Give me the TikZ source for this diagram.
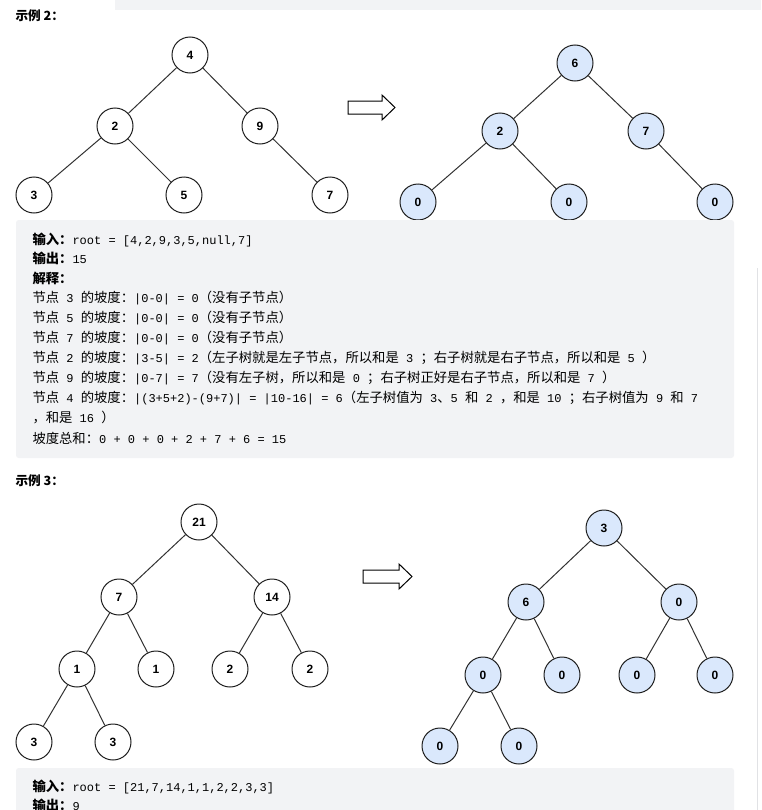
\documentclass[tikz,border=0pt]{standalone}
\usepackage{fontspec}
\setmainfont{Liberation Sans}
\setmonofont{Liberation Mono}
\newfontfamily\cjk{Noto Sans CJK SC}
\newcommand{\z}[1]{{\cjk\fontsize{10}{10}\selectfont #1}}
\newcommand{\zb}[1]{{\cjk\bfseries\fontsize{10}{10}\selectfont #1}}
\definecolor{boxgray}{RGB}{242,243,245}
\definecolor{nodeblue}{RGB}{218,232,252}
\tikzset{every picture/.style={line width=0.75pt}}
\tikzset{
  tnode/.style={circle,draw={rgb,255:red,30;green,30;blue,30},minimum size=27pt,inner sep=0pt,font=\bfseries\fontsize{9}{9}\selectfont},
  bnode/.style={tnode,fill=nodeblue},
  edge/.style={draw={rgb,255:red,50;green,50;blue,50}},
  txt/.style={anchor=west,inner sep=0pt,font=\ttfamily\fontsize{9}{9}\selectfont},
  head/.style={anchor=west,inner sep=0pt,font=\cjk\bfseries\fontsize{9.5}{9.5}\selectfont},
}

\begin{document}
\begin{tikzpicture}[x=0.75pt,y=0.75pt,yscale=-1,xscale=1]
\useasboundingbox (0,0) rectangle (761,810);
%Shape: Rectangle (top strip)
\fill [boxgray] (115,0) rectangle (761,10);
\draw [color={rgb,255:red,225;green,226;blue,229},line width=0.5pt] (757,268) -- (757,810);

% Text Node
\node [head] (h2) at (15,16) {示例 2：};

%Shape: left tree 2
\node [tnode] (a4) at (190,55) {4};
\node [tnode] (a2) at (115,126) {2};
\node [tnode] (a9) at (260,126) {9};
\node [tnode] (a3) at (34,195) {3};
\node [tnode] (a5) at (184,195) {5};
\node [tnode] (a7) at (330,195) {7};
\draw [edge] (a4) -- (a2) (a4) -- (a9) (a2) -- (a3) (a2) -- (a5) (a9) -- (a7);

%Shape: Right Arrow
\draw (348,101) -- (382,101) -- (382,95) -- (395,107.5) -- (382,120) -- (382,114) -- (348,114) -- cycle ;

%Shape: right tree 2
\node [bnode] (b6) at (575,63) {6};
\node [bnode] (b2) at (500,131) {2};
\node [bnode] (b7) at (646,131) {7};
\node [bnode] (b0a) at (418,202) {0};
\node [bnode] (b0b) at (569,202) {0};
\node [bnode] (b0c) at (715,202) {0};
\draw [edge] (b6) -- (b2) (b6) -- (b7) (b2) -- (b0a) (b2) -- (b0b) (b7) -- (b0c);

%Shape: Rectangle (text box 2)
\fill [boxgray,rounded corners=2pt] (16,220) rectangle (734,458);
\node [txt] (l1) at (32,240) {\zb{输入：}root = [4,2,9,3,5,null,7]};
\node [txt] (l2) at (32,258) {\zb{输出：}15};
\node [txt] (l3) at (32,278) {\zb{解释：}};
\node [txt] (l4) at (32,298) {\z{节点} 3 \z{的坡度：}|0-0| = 0\z{（没有子节点）}};
\node [txt] (l5) at (32,318) {\z{节点} 5 \z{的坡度：}|0-0| = 0\z{（没有子节点）}};
\node [txt] (l6) at (32,338) {\z{节点} 7 \z{的坡度：}|0-0| = 0\z{（没有子节点）}};
\node [txt] (l7) at (32,358) {\z{节点} 2 \z{的坡度：}|3-5| = 2\z{（左子树就是左子节点，所以和是} 3 \z{；右子树就是右子节点，所以和是} 5 \z{）}};
\node [txt] (l8) at (32,378) {\z{节点} 9 \z{的坡度：}|0-7| = 7\z{（没有左子树，所以和是} 0 \z{；右子树正好是右子节点，所以和是} 7 \z{）}};
\node [txt] (l9) at (32,398) {\z{节点} 4 \z{的坡度：}|(3+5+2)-(9+7)| = |10-16| = 6\z{（左子树值为} 3\z{、}5 \z{和} 2 \z{，和是} 10 \z{；右子树值为} 9 \z{和} 7};
\node [txt] (l10) at (32,418) {\z{，和是} 16 \z{）}};
\node [txt] (l11) at (32,438) {\z{坡度总和：}0 + 0 + 0 + 2 + 7 + 6 = 15};

% Text Node
\node [head] (h3) at (15,481) {示例 3：};

%Shape: left tree 3
\node [tnode] (c21) at (199,522) {21};
\node [tnode] (c7) at (119,597) {7};
\node [tnode] (c14) at (272,597) {14};
\node [tnode] (c1a) at (77,669) {1};
\node [tnode] (c1b) at (156,669) {1};
\node [tnode] (c2a) at (230,669) {2};
\node [tnode] (c2b) at (310,669) {2};
\node [tnode] (c3a) at (34,742) {3};
\node [tnode] (c3b) at (113,742) {3};
\draw [edge] (c21) -- (c7) (c21) -- (c14) (c7) -- (c1a) (c7) -- (c1b) (c14) -- (c2a) (c14) -- (c2b) (c1a) -- (c3a) (c1a) -- (c3b);

%Shape: Right Arrow
\draw (363,570) -- (399,570) -- (399,564) -- (412,576.5) -- (399,589) -- (399,583) -- (363,583) -- cycle ;

%Shape: right tree 3
\node [bnode] (d3) at (604,528) {3};
\node [bnode] (d6) at (526,602) {6};
\node [bnode] (d0) at (679,602) {0};
\node [bnode] (d0a) at (483,675) {0};
\node [bnode] (d0b) at (562,675) {0};
\node [bnode] (d0c) at (637,675) {0};
\node [bnode] (d0d) at (715,675) {0};
\node [bnode] (d0e) at (440,746) {0};
\node [bnode] (d0f) at (519,746) {0};
\draw [edge] (d3) -- (d6) (d3) -- (d0) (d6) -- (d0a) (d6) -- (d0b) (d0) -- (d0c) (d0) -- (d0d) (d0a) -- (d0e) (d0a) -- (d0f);

%Shape: Rectangle (text box 3)
\fill [boxgray,rounded corners=2pt] (16,768) rectangle (734,815);
\node [txt] (m1) at (32,787) {\zb{输入：}root = [21,7,14,1,1,2,2,3,3]};
\node [txt] (m2) at (32,805) {\zb{输出：}9};
\end{tikzpicture}
\end{document}
